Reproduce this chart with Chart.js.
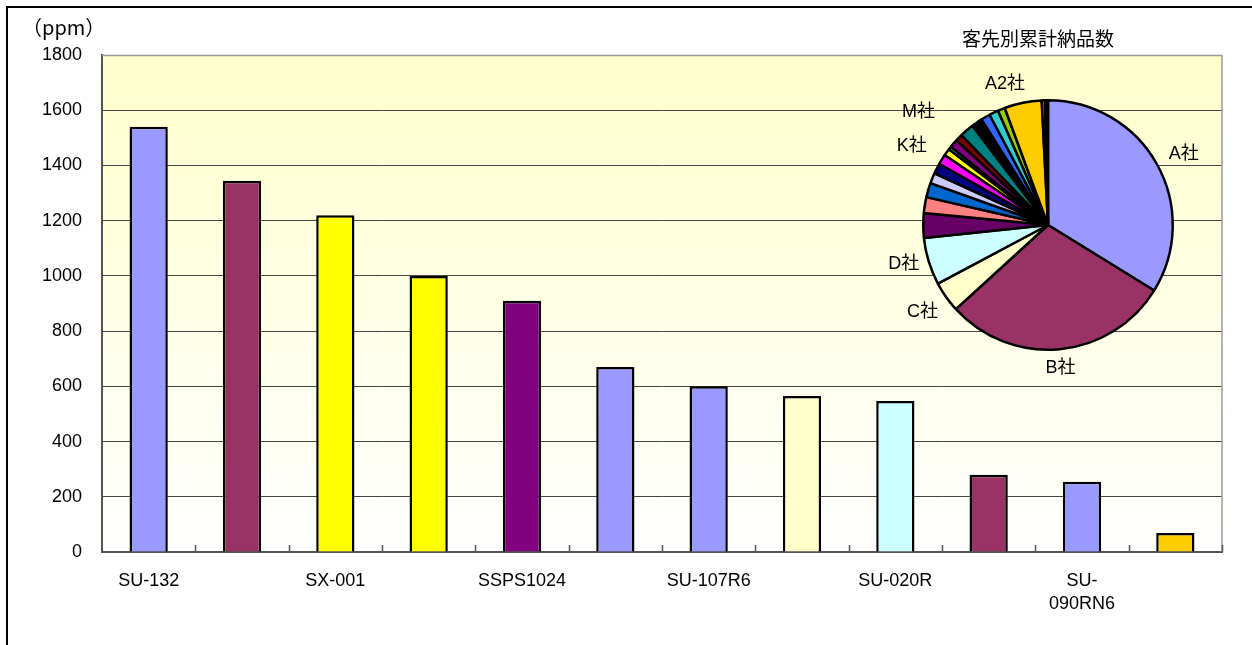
<!DOCTYPE html>
<html lang="ja">
<head>
<meta charset="utf-8">
<script src="https://cdn.jsdelivr.net/npm/chart.js@4.4.1/dist/chart.umd.min.js"></script>
<style>
  html, body { margin: 0; padding: 0; background: #fff; }
  #wrap { position: relative; width: 1252px; height: 645px; overflow: hidden; }
  #frame { position: absolute; left: 6px; top: 6px; width: 1400px; height: 800px;
           border-top: 2px solid #000; border-left: 2px solid #000; }
  #barChart { position: absolute; left: 0; top: 0; }
  #pieChart { position: absolute; left: 868px; top: 20px; }
</style>
</head>
<body>
<div id="wrap">
  <div id="frame"></div>
  <canvas id="barChart" width="1252" height="645"></canvas>
  <canvas id="pieChart" width="360" height="380"></canvas>
</div>
<script>
// 品番別 不良率 (ppm)
const categories = ['SU-132', '', 'SX-001', '', 'SSPS1024', '', 'SU-107R6', '', 'SU-020R', '', ['SU-', '090RN6'], ''];
const ppmValues = [1540, 1345, 1220, 1000, 910, 670, 600, 565, 547, 280, 254, 69];
const barColors = ['#9999FF', '#993366', '#FFFF00', '#FFFF00', '#800080', '#9999FF',
                   '#9999FF', '#FFFFCC', '#CCFFFF', '#993366', '#9999FF', '#FFCC00'];
const yMax = 1800;
const yStep = 200;
const unitLabel = '（ppm）';

// 客先別累計納品数
const pieTitle = '客先別累計納品数';
const customers = ['A社', 'B社', 'C社', 'D社', 'E社', 'F社', 'G社', 'H社', 'I社', 'J社', 'K社', 'L社', 'M社',
                   'N社', 'O社', 'P社', 'Q社', 'R社', 'S社', 'T社', 'U社', 'V社', 'W社', 'X社', 'Y社', 'Z社',
                   'A1社', 'A2社', 'A3社', 'A4社', 'A5社', 'A6社'];
const deliveries = [1217, 1059, 144, 220, 115, 74, 67, 49, 49, 47, 33, 15, 39,
                    33, 66, 8, 6, 12, 5, 4, 5, 4, 4, 3, 43, 43,
                    33, 174, 15, 5, 5, 4];
const shownCustomers = ['A社', 'B社', 'C社', 'D社', 'K社', 'M社', 'A2社'];
const pieColors = ['#9999FF', '#993366', '#FFFFCC', '#CCFFFF', '#660066', '#FF8080', '#0066CC', '#CCCCFF',
                   '#000080', '#FF00FF', '#FFFF00', '#00FFFF', '#800080', '#800000', '#008080', '#0000FF',
                   '#00CCFF', '#CCFFFF', '#CCFFCC', '#FFFF99', '#99CCFF', '#FF99CC', '#CC99FF', '#FFCC99',
                   '#3366FF', '#33CCCC', '#99CC00', '#FFCC00', '#FF9900', '#FF6600', '#666699', '#969696'];

const FONT = '"Liberation Sans", "Noto Sans CJK JP", sans-serif';
Chart.defaults.font.family = FONT;
Chart.defaults.color = '#000';

// plot area background, border, inward category ticks, unit label
const plotDecor = {
  id: 'plotDecor',
  beforeDraw(chart) {
    const { ctx, chartArea: a } = chart;
    const g = ctx.createLinearGradient(0, a.top, 0, a.bottom);
    g.addColorStop(0, '#FFFFCC');
    g.addColorStop(1, '#FFFFFF');
    ctx.save();
    ctx.fillStyle = g;
    ctx.fillRect(a.left, a.top, a.right - a.left, a.bottom - a.top);
    ctx.restore();
  },
  afterDraw(chart) {
    const { ctx, chartArea: a, scales: { x } } = chart;
    ctx.save();
    ctx.strokeStyle = '#999';
    ctx.lineWidth = 1.5;
    ctx.beginPath();
    ctx.moveTo(a.left, a.top + 0.5);
    ctx.lineTo(a.right, a.top + 0.5);
    ctx.lineTo(a.right, a.bottom);
    ctx.stroke();
    ctx.strokeStyle = '#555';
    ctx.lineWidth = 1.5;
    ctx.beginPath();
    for (let i = 1; i <= categories.length; i++) {
      const px = Math.round(x.getPixelForValue(i - 0.5)) + 0.5;
      ctx.moveTo(px, a.bottom);
      ctx.lineTo(px, a.bottom - 7);
    }
    ctx.stroke();
    ctx.fillStyle = '#000';
    ctx.font = '20px "Noto Sans CJK JP", ' + FONT;
    ctx.textAlign = 'left';
    ctx.textBaseline = 'middle';
    ctx.fillText(unitLabel, 22, 27);
    ctx.restore();
  }
};

new Chart(document.getElementById('barChart'), {
  type: 'bar',
  data: {
    labels: categories,
    datasets: [{
      data: ppmValues,
      backgroundColor: barColors,
      borderColor: '#000',
      borderWidth: 2.5,
      borderSkipped: 'bottom',
      barPercentage: 0.41,
      categoryPercentage: 1
    }]
  },
  options: {
    responsive: false,
    animation: false,
    layout: { padding: { left: 0, right: 30, top: 55, bottom: 13 } },
    plugins: { legend: { display: false }, tooltip: { enabled: false } },
    scales: {
      x: {
        grid: { display: false, drawTicks: false },
        border: { color: '#555', width: 2 },
        ticks: { autoSkip: false, maxRotation: 0, padding: 17, font: { size: 18, lineHeight: 1.3 } },
        afterFit(scale) { scale.height = 80; }
      },
      y: {
        min: 0,
        max: yMax,
        ticks: { stepSize: yStep, padding: 20, font: { size: 18 }, callback: v => String(v) },
        grid: { color: '#444', lineWidth: 1, drawTicks: false },
        border: { color: '#555', width: 2 },
        afterFit(scale) { scale.width = 102; }
      }
    }
  },
  plugins: [plotDecor]
});

// pie title and outside labels (crowded ones get nudged apart)
const pieText = {
  id: 'pieText',
  afterDraw(chart, args, opts) {
    const { ctx, chartArea: a } = chart;
    const meta = chart.getDatasetMeta(0);
    ctx.save();
    ctx.fillStyle = '#000';
    ctx.font = '19px ' + FONT;
    ctx.textAlign = 'center';
    ctx.textBaseline = 'middle';
    ctx.fillText(pieTitle, (a.left + a.right) / 2 - 10, 21);
    ctx.font = '18px ' + FONT;
    meta.data.forEach((arc, i) => {
      const name = chart.data.labels[i];
      if (!shownCustomers.includes(name)) return;
      const mid = (arc.startAngle + arc.endAngle) / 2;
      const r = arc.outerRadius + 10;
      const c = Math.cos(mid), s = Math.sin(mid);
      const [dx, dy] = opts.nudge[name] || [0, 0];
      ctx.textAlign = Math.abs(c) < 0.3 ? 'center' : (c > 0 ? 'left' : 'right');
      ctx.textBaseline = Math.abs(s) < 0.5 ? 'middle' : (s > 0 ? 'top' : 'bottom');
      ctx.fillText(name, arc.x + c * r + dx, arc.y + s * r + dy);
    });
    ctx.restore();
  }
};

new Chart(document.getElementById('pieChart'), {
  type: 'pie',
  data: {
    labels: customers,
    datasets: [{
      data: deliveries,
      backgroundColor: pieColors,
      borderColor: '#000',
      borderWidth: 2.5
    }]
  },
  options: {
    responsive: false,
    animation: false,
    layout: { padding: { left: 54, right: 54, top: 79, bottom: 49 } },
    plugins: {
      legend: { display: false },
      tooltip: { enabled: false },
      pieText: { nudge: { 'A社': [3, -5], 'K社': [-12, 9], 'M社': [-11, -16], 'A2社': [-16, 0] } }
    }
  },
  plugins: [pieText]
});
</script>
</body>
</html>
